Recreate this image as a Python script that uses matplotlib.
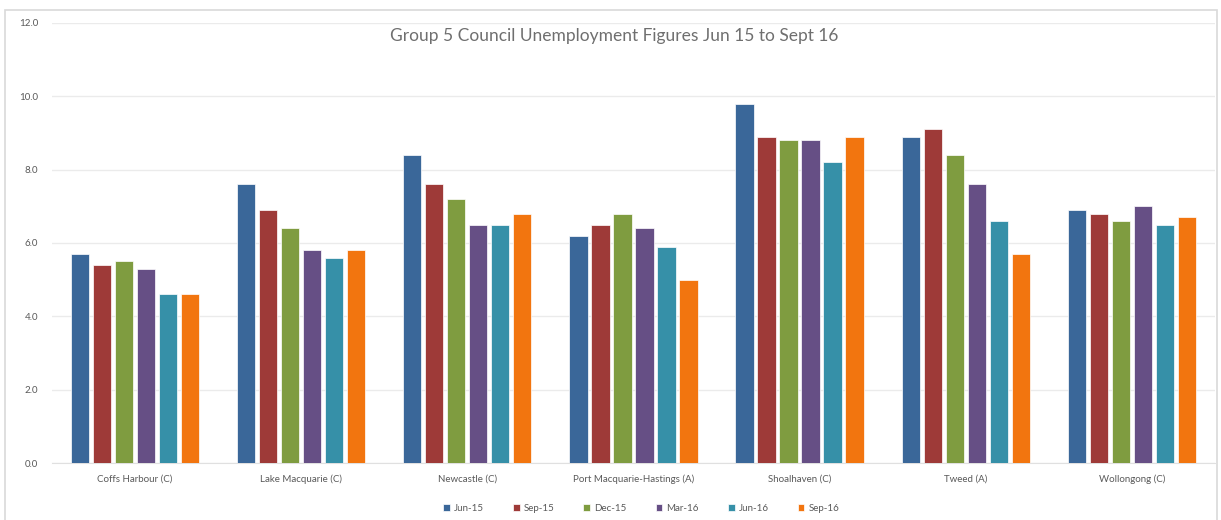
import numpy as np
import matplotlib.pyplot as plt
from matplotlib.patches import Rectangle

councils = ["Coffs Harbour (C)", "Lake Macquarie (C)", "Newcastle (C)",
            "Port Macquarie-Hastings (A)", "Shoalhaven (C)", "Tweed (A)", "Wollongong (C)"]
periods = ["Jun-15", "Sep-15", "Dec-15", "Mar-16", "Jun-16", "Sep-16"]

jun15 = [5.7, 7.6, 8.4, 6.2, 9.8, 8.9, 6.9]
sep15 = [5.4, 6.9, 7.6, 6.5, 8.9, 9.1, 6.8]
dec15 = [5.5, 6.4, 7.2, 6.8, 8.8, 8.4, 6.6]
mar16 = [5.3, 5.8, 6.5, 6.4, 8.8, 7.6, 7.0]
jun16 = [4.6, 5.6, 6.5, 5.9, 8.2, 6.6, 6.5]
sep16 = [4.6, 5.8, 6.8, 5.0, 8.9, 5.7, 6.7]

series = [jun15, sep15, dec15, mar16, jun16, sep16]
colors = ["#3A6799", "#9E3A38", "#7F9C40", "#664F85", "#3690A8", "#F2750F"]

plt.rcParams['font.family'] = ['Lato', 'DejaVu Sans']

fig = plt.figure(figsize=(12.21, 5.2), dpi=100)
ax = fig.add_axes([0.0426, 0.1096, 0.9524, 0.8462])

fig.patches.append(Rectangle((0.004, -0.01), 0.993, 0.99, transform=fig.transFigure,
                             fill=False, edgecolor="#D9D9D9", linewidth=1.2))

x = np.arange(len(councils))
pitch = 0.1325
width = 0.11
for i, (vals, col, lab) in enumerate(zip(series, colors, periods)):
    ax.bar(x + (i - 2.5) * pitch, vals, width, color=col, label=lab,
           edgecolor="white", linewidth=0.5, zorder=3)

ax.set_xlim(-0.5, len(councils) - 0.5)
ax.set_ylim(0, 12)
ax.set_yticks(np.arange(0, 12.1, 2))
ax.set_yticklabels([f"{v:.1f}" for v in np.arange(0, 12.1, 2)])
ax.set_xticks(x)
ax.set_xticklabels(councils)
ax.tick_params(axis="both", length=0, labelsize=7, labelcolor="#595959")
ax.tick_params(axis="x", pad=8)
ax.tick_params(axis="y", pad=10)
ax.grid(axis="y", color="#EBEBEB", linewidth=1, zorder=0)
for s in ["top", "right", "left"]:
    ax.spines[s].set_visible(False)
ax.spines["bottom"].set_color("#E0E0E0")

fig.text(0.503, 0.947, "Group 5 Council Unemployment Figures Jun 15 to Sept 16",
         ha="center", va="top", fontsize=12.5, color="#6F6F6F")

fig.legend(loc="center", bbox_to_anchor=(0.525, 0.023), ncol=6, frameon=False,
           fontsize=7, labelcolor="#595959", handlelength=0.7, handleheight=0.7,
           handletextpad=0.4, columnspacing=3.0)

fig.savefig("out.png", dpi=100)
